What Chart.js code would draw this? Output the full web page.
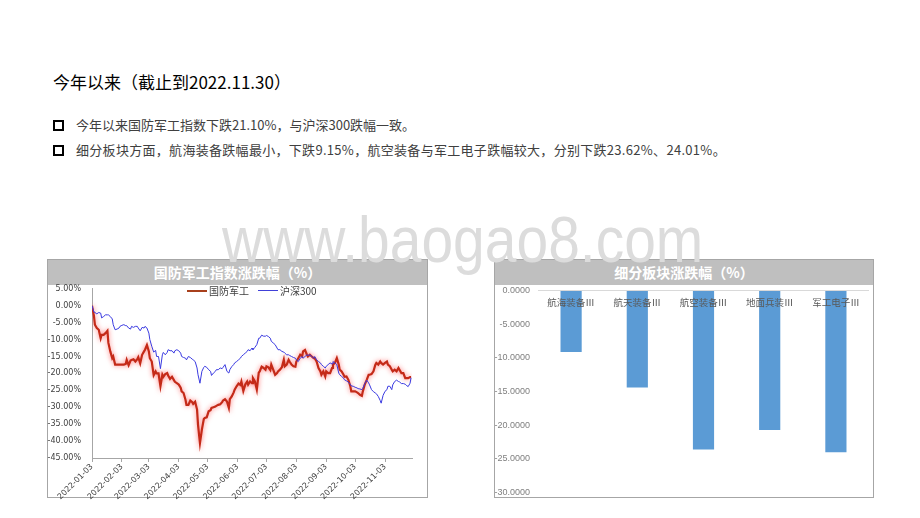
<!DOCTYPE html>
<html>
<head>
<meta charset="utf-8">
<script src="https://cdn.jsdelivr.net/npm/chart.js@4.4.0/dist/chart.umd.min.js"></script>
<style>
  body { margin:0; width:920px; height:518px; background:#fff; position:relative; overflow:hidden;
         font-family:"Noto Sans CJK SC", sans-serif; }
  .abs { position:absolute; }
  #title { left:53px; top:70px; font-size:17px; color:#000; white-space:nowrap; line-height:24px; }
  .bullet { left:53px; font-size:13px; color:#404040; white-space:nowrap; line-height:18px; }
  .bullet i { display:inline-block; width:7px; height:7px; border:2px solid #000; margin-right:12px;
              vertical-align:-1px; }
  .panel { border:1px solid #a6a6a6; box-sizing:border-box; }
  .head { background:#bfbfbf; color:#fff; font-weight:bold; font-size:14px; text-align:center;
          height:25px; line-height:25px; }
  .leg { font-size:10px; color:#404040; line-height:12px; white-space:nowrap; }
  #wm { left:222px; top:205px; font-family:"Liberation Sans", sans-serif; font-size:64px; color:#dcdcdc;
        white-space:nowrap; transform-origin:0 0; transform:scaleX(0.89); line-height:70px; }
</style>
</head>
<body>

<div id="title" class="abs">今年以来（截止到2022.11.30）</div>
<div class="abs bullet" style="top:116px;"><i></i>今年以来国防军工指数下跌21.10%，与沪深300跌幅一致。</div>
<div class="abs bullet" style="top:141px; letter-spacing:0.3px;"><i></i>细分板块方面，航海装备跌幅最小，下跌9.15%，航空装备与军工电子跌幅较大，分别下跌23.62%、24.01%。</div>

<div class="abs panel" style="left:47px; top:259px; width:381px; height:239px;">
  <div class="head">国防军工指数涨跌幅（%）</div>
</div>
<canvas id="lineChart" class="abs" width="390" height="219" style="left:36px; top:281px;"></canvas>
<div class="abs" style="left:187px; top:290px; width:20px; height:2px; background:#a8401c;"></div>
<div class="abs leg" style="left:209px; top:285px;">国防军工</div>
<div class="abs" style="left:258px; top:290px; width:20px; height:1px; background:#4040d8;"></div>
<div class="abs leg" style="left:280px; top:285px;">沪深300</div>

<div class="abs panel" style="left:494px; top:259px; width:380px; height:239px;">
  <div class="head">细分板块涨跌幅（%）</div>
</div>
<canvas id="barChart" class="abs" width="378" height="229" style="left:495px; top:277px;"></canvas>

<div id="wm" class="abs">www.baogao8.com</div>

<script>
// 日期：距 2022-01-03 的天数
const days = [
  0,2,3,5,7,9,10,12,14,16,
  17,19,21,22,24,26,28,29,31,33,
  35,36,38,40,41,43,45,47,48,50,
  52,54,55,57,59,60,62,64,66,67,
  69,71,73,74,76,78,79,81,83,85,
  86,88,90,92,93,95,97,98,100,102,
  104,105,107,109,110,112,114,116,117,119,
  121,123,124,126,128,129,131,133,135,136,
  138,140,142,143,145,147,148,150,152,154,
  155,157,159,161,162,164,166,167,169,171,
  173,174,176,178,180,181,183,185,186,188,
  190,192,193,195,197,199,200,202,204,205,
  207,209,211,212,214,216,218,219,221,223,
  224,226,228,230,231,233,235,237,238,240,
  242,243,245,247,249,250,252,254,256,257,
  259,261,262,264,266,268,269,271,273,275,
  276,278,280,281,283,285,287,288,290,292,
  294,295,297,299,300,302,304,306,307,309,
  311,312,314,316,318,319,321,323,325,326,
  328,330,331
];

// 国防军工 涨跌幅 (%)
const defense = [
  0,-3.0,-5.6,-6.6,-7.1,-9.6,-8.6,-8.6,-8.1,-7.4,
  -11.0,-13.5,-15.5,-15.0,-17.4,-17.4,-17.4,-17.4,-17.4,-17.4,
  -17.2,-16.0,-17.6,-16.2,-16.0,-15.8,-16.5,-15.8,-15.2,-17.0,
  -14.5,-13.5,-13.0,-11.6,-13.5,-15.5,-16.5,-20.5,-19.4,-20.0,
  -20.0,-23.8,-20.4,-21.0,-20.2,-19.9,-20.6,-21.6,-21.0,-22.0,
  -22.5,-22.9,-23.3,-24.2,-25.3,-25.8,-27.8,-29.3,-29.3,-28.0,
  -28.5,-29.0,-28.4,-30.7,-35.2,-40.6,-36.6,-33.5,-33.2,-33.0,
  -31.2,-30.9,-30.2,-30.0,-29.8,-29.6,-29.3,-29.1,-28.5,-28.0,
  -27.6,-28.3,-30.2,-27.6,-26.8,-25.6,-24.8,-23.8,-23.0,-23.4,
  -22.4,-25.2,-23.3,-22.4,-23.3,-22.4,-22.9,-21.4,-22.4,-24.8,
  -19.8,-19.4,-18.0,-18.4,-18.9,-17.9,-18.2,-19.0,-17.4,-18.9,
  -20.4,-19.9,-19.4,-18.9,-18.2,-16.0,-17.9,-17.4,-16.0,-16.5,
  -17.4,-17.9,-18.0,-16.5,-15.5,-14.5,-15.0,-13.5,-13.1,-14.5,
  -15.0,-14.5,-15.0,-15.5,-15.5,-16.5,-18.4,-19.4,-20.4,-19.4,
  -20.9,-19.4,-19.9,-19.9,-18.4,-17.4,-16.9,-15.5,-17.4,-18.9,
  -19.4,-20.4,-21.0,-20.9,-21.9,-23.8,-25.3,-25.3,-25.3,-25.6,
  -25.8,-26.3,-26.6,-25.3,-23.3,-21.9,-20.4,-20.4,-20.2,-19.4,
  -17.4,-16.9,-17.4,-16.5,-16.9,-17.4,-16.9,-16.5,-17.4,-17.9,
  -18.9,-19.4,-18.9,-19.4,-18.4,-18.9,-19.9,-19.9,-21.4,-21.4,
  -21.4,-21.1,-21.1
];

// 沪深300 涨跌幅 (%)
const hs300 = [
  0,-1.9,-2.0,-2.4,-2.0,-2.2,-3.6,-3.2,-2.7,-2.7,
  -2.7,-3.2,-3.9,-5.6,-7.1,-6.9,-6.6,-6.1,-5.8,-5.6,
  -5.9,-5.9,-6.6,-6.9,-6.1,-6.4,-6.1,-6.1,-6.6,-7.4,
  -6.4,-6.6,-6.1,-6.6,-8.1,-10.0,-12.0,-13.7,-13.2,-15.0,
  -15.0,-18.6,-14.5,-13.8,-14.5,-13.8,-13.0,-13.3,-13.3,-14.0,
  -13.3,-13.0,-13.3,-14.0,-15.0,-15.3,-15.5,-16.0,-15.0,-15.3,
  -15.8,-16.0,-16.5,-18.4,-20.4,-22.9,-19.4,-18.2,-17.9,-18.2,
  -18.9,-19.4,-20.6,-19.9,-19.4,-18.9,-18.9,-18.4,-18.6,-18.2,
  -17.4,-19.4,-19.9,-18.9,-18.0,-17.4,-16.9,-16.5,-16.0,-15.5,
  -15.0,-14.5,-14.0,-13.5,-13.0,-13.3,-12.5,-13.0,-12.3,-11.5,
  -9.6,-9.6,-8.7,-9.0,-9.0,-8.8,-9.1,-9.6,-10.5,-11.0,
  -11.5,-12.5,-13.0,-13.0,-13.5,-13.7,-14.0,-14.5,-14.5,-14.7,
  -15.0,-15.3,-15.5,-16.0,-16.5,-15.5,-15.0,-15.5,-15.0,-14.5,
  -14.7,-14.5,-15.0,-15.5,-15.0,-16.0,-16.5,-16.9,-17.4,-17.9,
  -18.4,-17.9,-17.4,-16.9,-17.2,-16.5,-16.9,-17.4,-19.9,-20.4,
  -20.9,-21.4,-21.9,-22.2,-22.6,-23.2,-23.7,-23.8,-24.1,-24.3,
  -24.5,-24.6,-24.8,-24.4,-23.0,-22.0,-22.8,-23.4,-24.8,-25.4,
  -25.8,-26.0,-26.8,-28.0,-28.8,-26.5,-25.3,-24.8,-23.8,-23.8,
  -24.8,-23.4,-22.4,-22.0,-22.4,-22.5,-23.0,-23.0,-23.2,-23.5,
  -23.9,-22.9,-21.3
];

// x 轴刻度
const tickDays = [0,31,59,90,120,151,181,212,243,273,304];
const tickLabels = ['2022-01-03','2022-02-03','2022-03-03','2022-04-03','2022-05-03','2022-06-03',
                    '2022-07-03','2022-08-03','2022-09-03','2022-10-03','2022-11-03'];

// 细分板块
const sectors = ['航海装备Ⅲ','航天装备Ⅲ','航空装备Ⅲ','地面兵装Ⅲ','军工电子Ⅲ'];
const sectorChg = [-9.15,-14.4,-23.62,-20.7,-24.01];

const axisFont = { family:'DejaVu Sans', size:8 };

// 红线发光效果
const glowPlugin = {
  id:'glow',
  beforeDatasetDraw(chart, args) {
    if (chart.data.datasets[args.index].glow) {
      chart.ctx.save();
      chart.ctx.shadowColor = 'rgba(255,30,30,0.6)';
      chart.ctx.shadowBlur = 5;
    }
  },
  afterDatasetDraw(chart, args) {
    if (chart.data.datasets[args.index].glow) chart.ctx.restore();
  }
};

new Chart(document.getElementById('lineChart'), {
  type:'line',
  data:{
    datasets:[
      { label:'沪深300', data:days.map((d,i)=>({x:d, y:hs300[i]})),
        borderColor:'#3a3ae0', borderWidth:1 },
      { label:'国防军工', data:days.map((d,i)=>({x:d, y:defense[i]})),
        borderColor:'#c42a18', borderWidth:2.2, glow:true }
    ]
  },
  options:{
    responsive:false, animation:false, devicePixelRatio:1,
    layout:{ padding:{ top:1, right:14, left:0, bottom:0 } },
    elements:{ point:{ radius:0 }, line:{ tension:0 } },
    plugins:{ legend:{ display:false }, tooltip:{ enabled:false } },
    scales:{
      x:{
        type:'linear', min:0, max:332,
        afterBuildTicks:s=>{ s.ticks = tickDays.map(v=>({value:v})); },
        afterFit:s=>{ s.height = 42; },
        ticks:{ autoSkip:false, minRotation:45, maxRotation:45, font:axisFont, color:'#404040', padding:0,
                callback:v=>tickLabels[tickDays.indexOf(v)] },
        grid:{ drawOnChartArea:false, tickLength:4, color:'#a6a6a6' },
        border:{ color:'#a6a6a6' }
      },
      y:{
        min:-45, max:5,
        afterFit:s=>{ s.width = 56; },
        ticks:{ stepSize:5, font:axisFont, color:'#404040', padding:3,
                callback:v=>v.toFixed(2)+'%' },
        grid:{ display:false },
        border:{ color:'#a6a6a6' }
      }
    }
  },
  plugins:[glowPlugin]
});

// 类别标签画在 0 轴下方
const catLabelPlugin = {
  id:'catLabels',
  afterDatasetsDraw(chart) {
    const ctx = chart.ctx, xs = chart.scales.x, ys = chart.scales.y;
    ctx.save();
    ctx.font = '9.5px "Noto Sans CJK SC"';
    ctx.fillStyle = '#595959';
    ctx.textAlign = 'center';
    ctx.textBaseline = 'middle';
    sectors.forEach((s,i)=>ctx.fillText(s, xs.getPixelForValue(i), ys.getPixelForValue(0)+12));
    ctx.restore();
  }
};

new Chart(document.getElementById('barChart'), {
  type:'bar',
  data:{
    labels:sectors,
    datasets:[{ data:sectorChg, backgroundColor:'#5b9bd5', categoryPercentage:1, barPercentage:0.32 }]
  },
  options:{
    responsive:false, animation:false, devicePixelRatio:1,
    layout:{ padding:{ top:1, right:4, left:0, bottom:0 } },
    plugins:{ legend:{ display:false }, tooltip:{ enabled:false } },
    scales:{
      x:{ display:false },
      y:{
        min:-30, max:0,
        afterFit:s=>{ s.width = 43; },
        ticks:{ stepSize:5, font:{ family:'Liberation Sans', size:9 }, color:'#7f7f7f', padding:8,
                callback:v=>v.toFixed(4) },
        grid:{ drawTicks:false, color:c=>c.tick && c.tick.value===0 ? '#d9d9d9' : 'rgba(0,0,0,0)' },
        border:{ display:false }
      }
    }
  },
  plugins:[catLabelPlugin]
});
</script>
</body>
</html>
